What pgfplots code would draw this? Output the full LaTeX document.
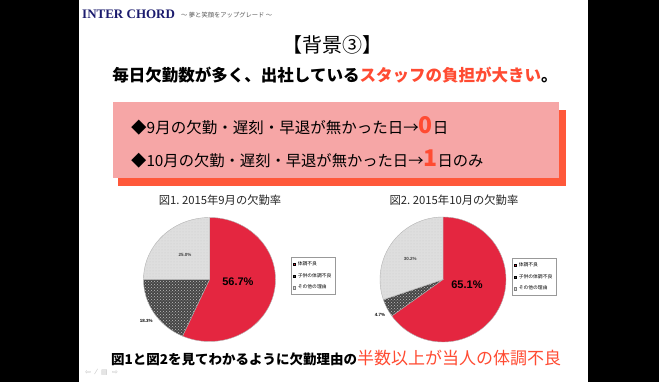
\documentclass[border=0pt]{standalone}
\usepackage{pgfplots}
\pgfplotsset{compat=1.18}
\usepackage{fontspec}
\usetikzlibrary{patterns}
\setmainfont{Liberation Sans}
\newfontfamily\jp{Noto Sans CJK JP}
\newfontfamily\logofont{Liberation Serif}
\newfontfamily\sym{DejaVu Sans}
\definecolor{piered}{RGB}{228,38,64}
\definecolor{piedark}{RGB}{70,70,70}
\definecolor{pielight}{RGB}{222,222,222}
\definecolor{boxpink}{RGB}{246,166,166}
\definecolor{boxshadow}{RGB}{255,88,58}
\definecolor{accent}{RGB}{255,75,50}
\definecolor{navy}{RGB}{28,28,110}
\newcommand\fs[1]{\fontsize{#1}{#1}\selectfont}
% #1 cumulative share before the slice, #2 share, #3 style, #4/#5 radii
\newcommand\pieslice[5]{%
  \path[#3] (axis cs:0,0) -- (axis cs:{cos(90-3.6*(#1))},{sin(90-3.6*(#1))})
    arc[start angle={90-3.6*(#1)}, end angle={90-3.6*((#1)+(#2))}, x radius=#4, y radius=#5] -- cycle;}
\tikzset{
  sred/.style={fill=piered, draw=gray!60, line width=0.4pt},
  sdark/.style={fill=piedark, draw=gray!60, line width=0.4pt, postaction={pattern=crosshatch dots, pattern color=white!75!black}},
  slight/.style={fill=pielight, draw=gray!60, line width=0.4pt, postaction={pattern=dots, pattern color=black!20}},
}
\pgfplotsset{
  pielegend/.style={
    legend style={font=\jp\fs{4.8}, draw=gray!80, line width=0.4pt, inner xsep=2pt, inner ysep=2.2pt,
      row sep=2.2pt, cells={anchor=west}},
    legend image code/.code={\fill[##1] (0pt,-1.1pt) rectangle (2.2pt,1.1pt);},
  }
}
\begin{document}
\begin{tikzpicture}[x=1pt,y=1pt]
% frame
\fill[black] (0,0) rectangle (659,-382);
\fill[white] (79,0) rectangle (588,-382);
% header
\node[anchor=west, inner sep=0, text=navy, font=\logofont\bfseries\fs{13}] at (82,-14) {INTER CHORD};
\node[anchor=west, inner sep=0, text=black!65, font=\jp\fs{6.3}] at (181,-15) {～ 夢と笑顔をアップグレード ～};
% title
\node[inner sep=0, font=\jp\fs{20}] at (332,-45) {【背景③】};
\node[inner sep=0, font=\jp\bfseries\fs{16.5}] at (335,-75) {毎日欠勤数が多く、出社している\textcolor{accent}{スタッフの負担が大きい}。};
% pink box
\fill[boxshadow] (118,-110) rectangle (566,-186);
\fill[boxpink] (113,-102) rectangle (559,-178);
\node[anchor=west, inner sep=0, font=\jp\fs{15.5}] at (131,-126) {◆9月の欠勤・遅刻・早退が無かった日→\textcolor{accent}{\bfseries\fs{23}0}日};
\node[anchor=west, inner sep=0, font=\jp\fs{15.3}] at (131,-159) {◆10月の欠勤・遅刻・早退が無かった日→\textcolor{accent}{\bfseries\fs{23}1}日のみ};
% chart titles
\node[inner sep=0, font=\jp\fs{11.3}, text=black!85] at (220,-200) {図1.\ 2015年9月の欠勤率};
\node[inner sep=0, font=\jp\fs{11.3}, text=black!85] at (454,-200) {図2.\ 2015年10月の欠勤率};

% pie 1: September
\begin{axis}[at={(209.5pt,-279.5pt)}, anchor=center, x=66pt, y=62pt,
  xmin=-1, xmax=1, ymin=-1, ymax=1, axis lines=none, ticks=none, clip=false,
  pielegend, legend style={at={(axis cs:1.235,0.363)}, anchor=north west}]
\pieslice{0}{56.7}{sred}{66pt}{62pt}
\pieslice{56.7}{18.3}{sdark}{66pt}{62pt}
\pieslice{75.0}{25.0}{slight}{66pt}{62pt}
\addlegendimage{fill=piered}
\addlegendentry{体調不良}
\addlegendimage{fill=piedark}
\addlegendentry{子供の体調不良}
\addlegendimage{fill=pielight, draw=gray}
\addlegendentry{その他の理由}
\node[font=\bfseries\fs{11}] at (axis cs:0.43,-0.04) {56.7\%};
\node[font=\bfseries\fs{4.5}, text=black!75] at (axis cs:-0.37,0.395) {25.0\%};
\node[font=\bfseries\fs{4.5}] at (axis cs:-0.96,-0.67) {18.3\%};
\end{axis}

% pie 2: October
\begin{axis}[at={(443pt,-279.5pt)}, anchor=center, x=63pt, y=62.5pt,
  xmin=-1, xmax=1, ymin=-1, ymax=1, axis lines=none, ticks=none, clip=false,
  pielegend, legend style={at={(axis cs:1.095,0.344)}, anchor=north west}]
\pieslice{0}{65.1}{sred}{63pt}{62.5pt}
\pieslice{65.1}{4.7}{sdark}{63pt}{62.5pt}
\pieslice{69.8}{30.2}{slight}{63pt}{62.5pt}
\addlegendimage{fill=piered}
\addlegendentry{体調不良}
\addlegendimage{fill=piedark}
\addlegendentry{子供の体調不良}
\addlegendimage{fill=pielight, draw=gray}
\addlegendentry{その他の理由}
\node[font=\bfseries\fs{11}] at (axis cs:0.38,-0.09) {65.1\%};
\node[font=\bfseries\fs{4.5}, text=black!75] at (axis cs:-0.52,0.33) {30.2\%};
\node[font=\bfseries\fs{4.5}] at (axis cs:-1.0,-0.57) {4.7\%};
\end{axis}

% conclusion
\node[anchor=west, inner sep=0, font=\jp\bfseries\fs{13.5}] at (111,-358) {図1と図2を見てわかるように欠勤理由の\textcolor{accent}{\mdseries\fs{17}半数以上が当人の体調不良}};
% toolbar icons
\node[anchor=west, inner sep=0, font=\sym\fs{7}, text=black!25] at (85,-372) {⇦\ \ ⁄\ \ ▤\ \ ⇨};
\end{tikzpicture}
\end{document}
